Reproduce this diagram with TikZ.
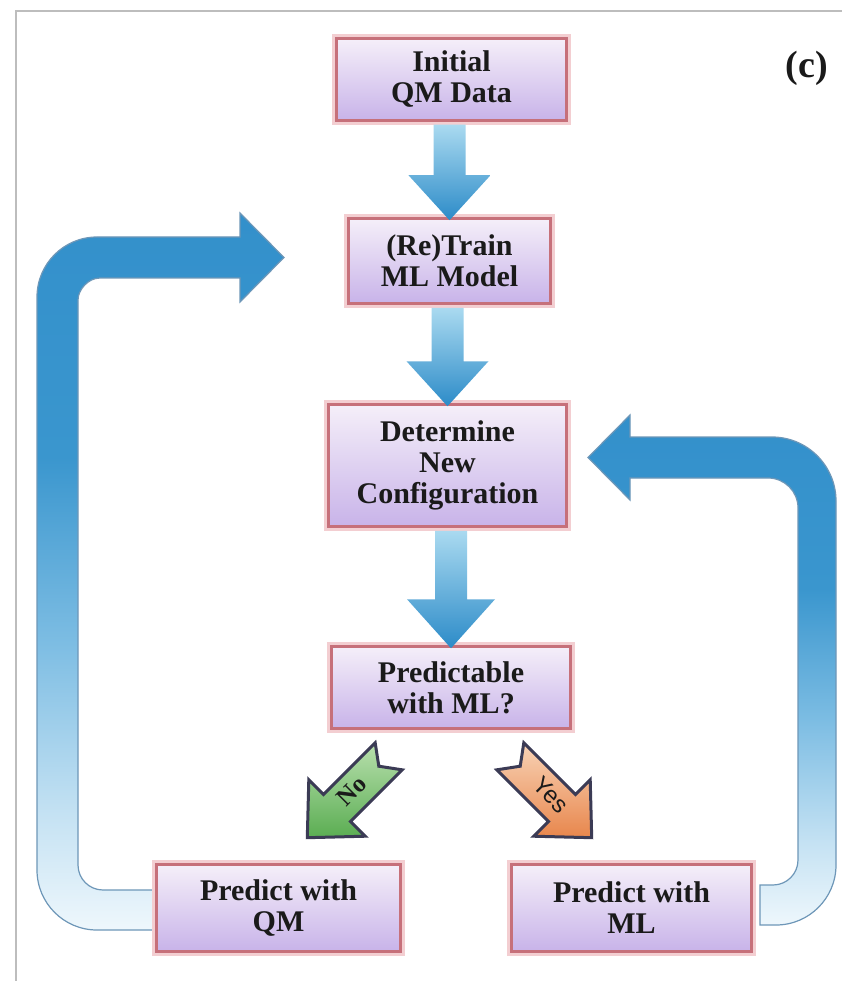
\documentclass[tikz,border=0pt]{standalone}
\usepackage{fontspec}
\setmainfont{Liberation Serif}
\newfontfamily\sansf{Liberation Sans}
\usetikzlibrary{calc}
\definecolor{boxtop}{HTML}{F5EFF9}
\definecolor{boxbot}{HTML}{C8B3E9}
\definecolor{boxborder}{HTML}{C6707A}
\definecolor{boxglow}{HTML}{F3CED1}
\definecolor{textc}{HTML}{1A1A1A}
\definecolor{arrtop}{HTML}{AADAF0}
\definecolor{arrbot}{HTML}{2C8BC8}
\definecolor{lpale}{HTML}{EEF7FC}
\definecolor{llight}{HTML}{C5E2F3}
\definecolor{lmid}{HTML}{7DBDE3}
\definecolor{ldark}{HTML}{3A96CE}
\definecolor{ldeep}{HTML}{3390CB}
\definecolor{loopline}{HTML}{6E97B8}
\definecolor{notop}{HTML}{B9E0AE}
\definecolor{nobot}{HTML}{5AAD52}
\definecolor{yestop}{HTML}{F8D3B6}
\definecolor{yesbot}{HTML}{E8864C}
\definecolor{chevline}{HTML}{3B3B55}
\definecolor{framec}{HTML}{BDBDBD}
\pgfdeclareverticalshading{loopshade}{100bp}{color(0bp)=(lpale); color(25bp)=(lpale); color(33bp)=(llight); color(45bp)=(lmid); color(58bp)=(ldark); color(75bp)=(ldeep); color(100bp)=(ldeep)}
\tikzset{
  box/.style={draw=boxborder, line width=2.5pt, top color=boxtop, bottom color=boxbot,
    preaction={draw=boxglow, line width=9pt},
    font=\bfseries\fontsize{30}{31}\selectfont, text=textc, align=center, inner sep=0pt},
  barrow/.style={top color=arrtop, bottom color=arrbot, draw=none},
  loopshape/.style={shade, shading=loopshade, draw=loopline, line width=1.2pt},
  chevno/.style={top color=notop, bottom color=nobot, draw=chevline, line width=3pt, line join=miter},
  chevyes/.style={top color=yestop, bottom color=yesbot, draw=chevline, line width=3pt, line join=miter}
}
\begin{document}
\begin{tikzpicture}[x=1pt,y=-1pt]
\useasboundingbox (0,0) rectangle (842,981);
\fill[white] (0,0) rectangle (842,981);
\draw[framec, line width=2pt] (16,981) -- (16,11) -- (842,11);

% feedback loops
\path[loopshape] (153,930) -- (97,930) .. controls (63.9,930) and (37,903.1) .. (37,870)
  -- (37,297) .. controls (37,263.9) and (63.9,237) .. (97,237) -- (240,237) -- (240,213)
  -- (284,257.5) -- (240,302) -- (240,278) -- (100,278) .. controls (87.8,278) and (78,290.2) .. (78,300)
  -- (78,865) .. controls (78,878.8) and (89.2,890) .. (103,890) -- (153,890) -- cycle;
\path[loopshape] (760,925) -- (776,925) .. controls (809.1,925) and (836,898.1) .. (836,865)
  -- (836,501) .. controls (836,465.7) and (807.3,437) .. (772,437) -- (630,437) -- (630,415)
  -- (588,457.5) -- (630,500) -- (630,478) -- (768,478) .. controls (784.6,478) and (798,491.4) .. (798,508)
  -- (798,860) .. controls (798,873.8) and (786.8,885) .. (773,885) -- (760,885) -- cycle;

% boxes
\node[box, minimum width=230, minimum height=82] (b1) at (451.5,79.5) {Initial\\QM Data};
\node[box, minimum width=202, minimum height=85] (b2) at (449.5,261) {(Re)Train\\ML Model};
\node[box, minimum width=238, minimum height=122] (b3) at (447.5,465.5) {Determine\\New\\Configuration};
\node[box, minimum width=239, minimum height=82] (b4) at (451,687.5) {Predictable\\with ML?};
\node[box, minimum width=244, minimum height=87] (b5) at (278.5,908) {Predict with\\QM};
\node[box, minimum width=240, minimum height=87] (b6) at (631.5,908) {Predict with\\ML};

% block arrows between boxes
\path[barrow] ($(b1.south -| b2.north)+(-16,3)$) -- ($(b2.north)+(-16,-42)$) -- ($(b2.north)+(-41,-42)$)
  -- ($(b2.north)+(0,3)$) -- ($(b2.north)+(41,-42)$) -- ($(b2.north)+(16,-42)$) -- ($(b1.south -| b2.north)+(16,3)$) -- cycle;
\path[barrow] ($(b2.south -| b3.north)+(-16,3)$) -- ($(b3.north)+(-16,-42)$) -- ($(b3.north)+(-41,-42)$)
  -- ($(b3.north)+(0,3)$) -- ($(b3.north)+(41,-42)$) -- ($(b3.north)+(16,-42)$) -- ($(b2.south -| b3.north)+(16,3)$) -- cycle;
\path[barrow] ($(b3.south -| b4.north)+(-16,3)$) -- ($(b4.north)+(-16,-46)$) -- ($(b4.north)+(-44,-46)$)
  -- ($(b4.north)+(0,3)$) -- ($(b4.north)+(44,-46)$) -- ($(b4.north)+(16,-46)$) -- ($(b3.south -| b4.north)+(16,3)$) -- cycle;

% No / Yes chevron arrows
\path[chevno] (375.2,742.9) -- (323.6,794.5) -- (308.8,779.7) -- (307.3,837.7) -- (365.3,836.2)
  -- (350.5,821.4) -- (402.1,769.8) -- (378.8,766.2) -- cycle;
\path[chevyes] (523.8,742.9) -- (575.4,794.5) -- (590.2,779.7) -- (591.7,837.7) -- (533.7,836.2)
  -- (548.5,821.4) -- (496.9,769.8) -- (520.2,766.2) -- cycle;
\node[rotate=45, font=\bfseries\fontsize{25}{25}\selectfont, text=textc] (no) at (352,791) {No};
\node[rotate=-45, font=\sansf\fontsize{24}{24}\selectfont, text=textc] (yes) at (551,795) {Yes};

% panel label
\node[font=\bfseries\fontsize{38}{38}\selectfont, text=textc] (lab) at (807,68) {(c)};
\end{tikzpicture}
\end{document}
